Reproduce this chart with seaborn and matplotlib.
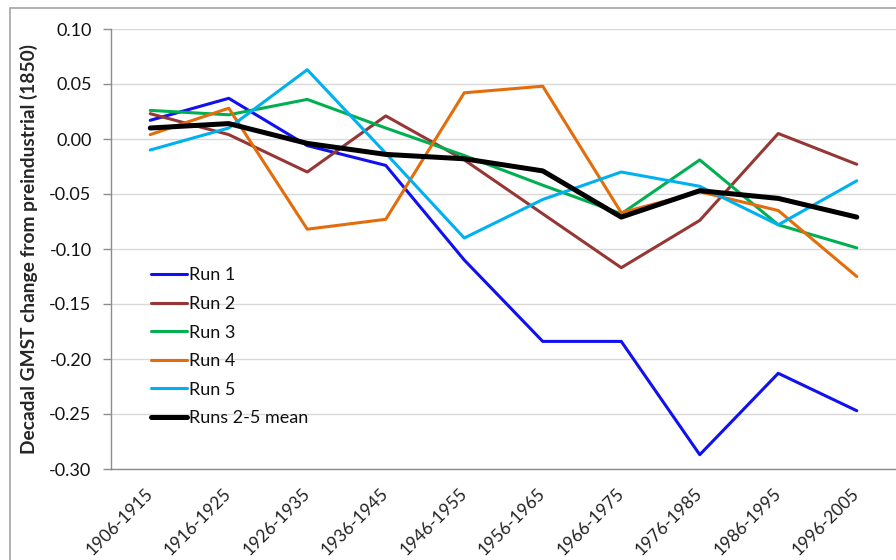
import matplotlib
matplotlib.use("Agg")
import matplotlib.pyplot as plt
import seaborn as sns
from matplotlib.lines import Line2D

periods = ["1906-1915", "1916-1925", "1926-1935", "1936-1945", "1946-1955",
           "1956-1965", "1966-1975", "1976-1985", "1986-1995", "1996-2005"]

run1 = [0.017, 0.037, -0.006, -0.024, -0.110, -0.184, -0.184, -0.287, -0.213, -0.247]
run2 = [0.023, 0.004, -0.030, 0.021, -0.019, -0.068, -0.117, -0.074, 0.005, -0.023]
run3 = [0.026, 0.022, 0.036, 0.010, -0.015, -0.042, -0.068, -0.019, -0.078, -0.099]
run4 = [0.004, 0.028, -0.082, -0.073, 0.042, 0.048, -0.067, -0.048, -0.065, -0.125]
run5 = [-0.010, 0.010, 0.063, -0.013, -0.090, -0.055, -0.030, -0.043, -0.078, -0.038]
mean25 = [0.010, 0.014, -0.004, -0.014, -0.018, -0.029, -0.071, -0.047, -0.054, -0.071]

series = [
    ("Run 1", run1, "#1010F0", 2.2),
    ("Run 2", run2, "#953735", 2.2),
    ("Run 3", run3, "#00B050", 2.2),
    ("Run 4", run4, "#E46C0A", 2.2),
    ("Run 5", run5, "#00B0F0", 2.2),
    ("Runs 2-5 mean", mean25, "#000000", 3.6),
]

sns.set_style("white")
plt.rcParams["font.family"] = ["Lato", "DejaVu Sans"]

W, H = 896, 560
fig = plt.figure(figsize=(W / 100, H / 100), dpi=100)
ax = fig.add_axes([111 / W, 1 - 469 / H, 785 / W, 440 / H])

for name, vals, col, lw in series:
    sns.lineplot(x=periods, y=vals, color=col, linewidth=lw, label=name, ax=ax, sort=False)

ax.set_xlim(-0.5, len(periods) - 0.5)
ax.set_ylim(-0.30, 0.10)
ax.set_yticks([0.10, 0.05, 0.0, -0.05, -0.10, -0.15, -0.20, -0.25, -0.30])
ax.set_yticklabels([f"{v:.2f}" for v in ax.get_yticks()], fontsize=13, color="#111111")
ax.yaxis.grid(True, color="#d9d9d9", linewidth=1.0)
ax.xaxis.grid(False)

ax.set_xticks(range(len(periods)))
ax.set_xticklabels(periods, rotation=45, ha="right", va="center",
                   rotation_mode="anchor", fontsize=12.5, color="#222222")
ax.set_xticks([i - 0.5 for i in range(len(periods) + 1)], minor=True)
ax.tick_params(axis="x", which="major", length=0, pad=16)
ax.tick_params(axis="x", which="minor", length=5, color="#8c8c8c", width=1)
ax.tick_params(axis="y", length=6, color="#8c8c8c", width=1, left=True, pad=8)

for s in ("top", "right"):
    ax.spines[s].set_visible(False)
for s in ("left", "bottom"):
    ax.spines[s].set_color("#8c8c8c")
    ax.spines[s].set_linewidth(1.0)

ax.set_ylabel("Decadal GMST change from preindustrial (1850)", fontsize=13.8,
              fontweight="bold", labelpad=8)
ax.set_xlabel("")

leg = ax.legend(loc="upper left", bbox_to_anchor=(135 / W, 1 - 251 / H),
                bbox_transform=fig.transFigure, frameon=False, fontsize=13,
                handlelength=2.0, handletextpad=0.1, labelspacing=0.7)
for t in leg.get_texts():
    t.set_color("#111111")

# outer chart border (top and left visible)
fig.add_artist(Line2D([10 / W, 1], [1 - 8 / H, 1 - 8 / H], color="#a6a6a6", lw=1.2))
fig.add_artist(Line2D([10 / W, 10 / W], [0, 1 - 8 / H], color="#a6a6a6", lw=1.2))

fig.savefig("out.png", dpi=100)
